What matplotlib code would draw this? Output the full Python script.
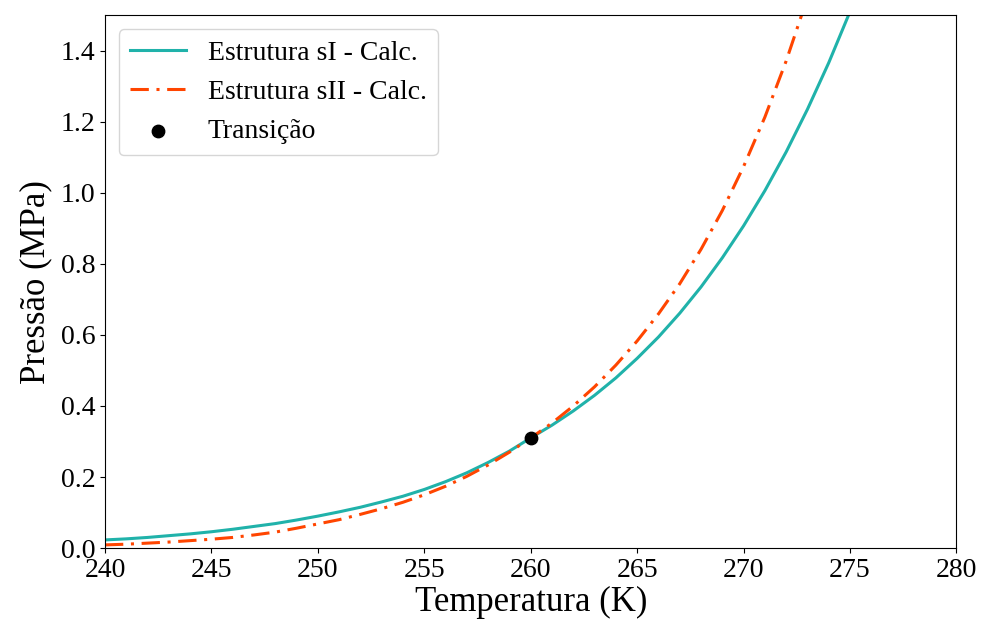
import numpy as np
import matplotlib
matplotlib.use('Agg')
import matplotlib.pyplot as plt

plt.rcParams['font.family'] = ['Liberation Serif', 'DejaVu Serif']
plt.rcParams['mathtext.fontset'] = 'stix'

# Temperatures (K) and pressures (MPa)
T = [240, 241, 242, 243, 244, 245, 246, 247, 248, 249,
     250, 251, 252, 253, 254, 255, 256, 257, 258, 259,
     260, 261, 262, 263, 264, 265, 266, 267, 268, 269,
     270, 271, 272, 273, 274, 275, 276]

# Estrutura sI
P_sI = [0.023, 0.026, 0.030, 0.035, 0.040, 0.046, 0.053, 0.061, 0.069, 0.079,
        0.090, 0.102, 0.115, 0.130, 0.146, 0.165, 0.187, 0.212, 0.241, 0.273,
        0.310, 0.346, 0.386, 0.430, 0.479, 0.534, 0.594, 0.661, 0.735, 0.817,
        0.907, 1.006, 1.115, 1.235, 1.366, 1.510, 1.665]

# Estrutura sII
P_sII = [0.009, 0.011, 0.014, 0.017, 0.021, 0.025, 0.030, 0.037, 0.045, 0.056,
         0.068, 0.080, 0.095, 0.111, 0.129, 0.150, 0.174, 0.202, 0.234, 0.270,
         0.310, 0.352, 0.400, 0.454, 0.515, 0.583, 0.659, 0.744, 0.841, 0.950,
         1.074, 1.213, 1.371, 1.549, 1.750, 1.975, 2.230]

# transition point
T_trans = [260.0]
P_trans = [0.31]

fig = plt.figure(figsize=(9.81, 6.30), dpi=100)
ax = fig.add_axes([0.107, 0.130, 0.868, 0.846])

ax.plot(T, P_sI, color='#20b2aa', lw=2.2, label='Estrutura sI - Calc.')
ax.plot(T, P_sII, color='#ff4500', lw=2.2, ls=(0, (6, 2.5, 1, 2.5)),
        label='Estrutura sII - Calc.')
ax.scatter(T_trans, P_trans, color='black', s=80, zorder=3, label='Transição')

ax.set_xlim(240, 280)
ax.set_ylim(0, 1.5)
ax.set_xticks(np.arange(240, 281, 5))
ax.set_yticks(np.arange(0, 1.41, 0.2))
ax.tick_params(labelsize=20)
ax.set_xlabel('Temperatura (K)', fontsize=25, labelpad=2)
ax.set_ylabel('Pressão (MPa)', fontsize=25, labelpad=6)
ax.legend(loc='upper left', fontsize=20)

plt.savefig('out.png', dpi=100)
